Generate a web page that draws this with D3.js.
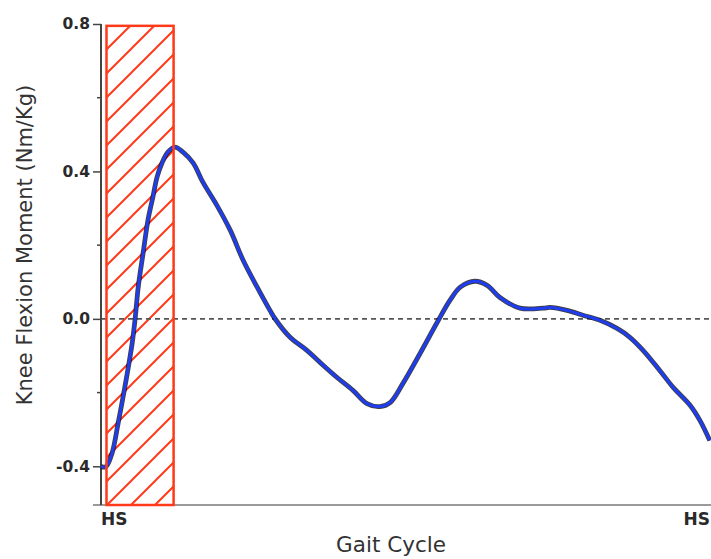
<!DOCTYPE html>
<html>
<head>
<meta charset="utf-8">
<script src="https://cdn.jsdelivr.net/npm/d3@7"></script>
<style>
  html, body { margin: 0; padding: 0; background: #fff; }
  svg { display: block; }
</style>
</head>
<body>
<svg id="chart" width="711" height="559"></svg>
<script>
// ---- data ----
const gaitPct = [0, 0.8, 1.8, 2.8, 3.9, 5.1, 5.6, 6.1, 6.9, 7.7, 8.5, 9.2, 10.0, 11.0, 12.1,
  13.4, 15.1, 16.7, 19.0, 21.2, 23.3, 25.6, 27.7, 28.5, 31.0, 33.8, 35.9, 38.7, 41.3, 43.6,
  45.7, 47.4, 49.5, 52.3, 55.1, 57.2, 58.9, 61.3, 63.3, 65.4, 68.7, 72.5, 73.6, 76.4, 79.0,
  81.8, 84.6, 86.7, 88.9, 91.6, 93.8, 96.6, 98.2, 99.8];
const kneeMoment = [-0.401, -0.401, -0.365, -0.284, -0.186, -0.067, 0.001, 0.086, 0.178, 0.268, 0.330, 0.385, 0.423, 0.453, 0.466,
  0.453, 0.423, 0.371, 0.308, 0.240, 0.159, 0.086, 0.023, 0.001, -0.050, -0.086, -0.118, -0.159, -0.194, -0.230,
  -0.238, -0.227, -0.175, -0.094, -0.010, 0.050, 0.086, 0.102, 0.091, 0.058, 0.029, 0.029, 0.031, 0.023, 0.010,
  -0.004, -0.026, -0.050, -0.086, -0.140, -0.186, -0.235, -0.276, -0.330];
const shadedRange = [0.9, 11.9];
const shadedTop = 0.795;
const yMajorTicks = [0.8, 0.4, 0.0, -0.4];
const yMinorTicks = [0.6, 0.2, -0.2];
const xTickLabels = ["HS", "HS"];
const xLabel = "Gait Cycle";
const yLabel = "Knee Flexion Moment (Nm/Kg)";

// ---- layout ----
const svg = d3.select("#chart");
const x = d3.scaleLinear().domain([0, 100]).range([101, 711]);
const y = d3.scaleLinear().domain([-0.505, 0.8]).range([505, 24]);

const defs = svg.append("defs");
const pat = defs.append("pattern")
  .attr("id", "hatch").attr("patternUnits", "userSpaceOnUse")
  .attr("width", 24).attr("height", 24).attr("x", 12).attr("y", 0);
pat.append("path")
  .attr("d", "M0,24 L24,0 M-6,6 L6,-6 M18,30 L30,18")
  .attr("stroke", "#ff3a1a").attr("stroke-width", 2);

// x axis line (light gray)
svg.append("line")
  .attr("x1", 93).attr("x2", 711).attr("y1", y(-0.505)).attr("y2", y(-0.505))
  .attr("stroke", "#9a9a9a").attr("stroke-width", 2);

// hatched region fill
const rx0 = x(shadedRange[0]), rx1 = x(shadedRange[1]);
svg.append("rect")
  .attr("x", rx0).attr("y", y(shadedTop))
  .attr("width", rx1 - rx0).attr("height", y(-0.505) - y(shadedTop))
  .attr("fill", "url(#hatch)");

// zero dashed line
svg.append("line")
  .attr("x1", x(0)).attr("x2", 711).attr("y1", y(0)).attr("y2", y(0))
  .attr("stroke", "#555").attr("stroke-width", 1.6).attr("stroke-dasharray", "5,4");

// y axis
const yAxis = d3.axisLeft(y).tickValues(yMajorTicks)
  .tickFormat(d => d.toFixed(1)).tickSize(8).tickPadding(3);
const gy = svg.append("g").attr("transform", "translate(101,0)").call(yAxis);
gy.select(".domain").remove();
gy.selectAll(".tick line").attr("stroke", "#444").attr("stroke-width", 1.5);
gy.selectAll(".tick text")
  .attr("font-family", "DejaVu Sans").attr("font-weight", "bold")
  .attr("font-size", 15.5).attr("fill", "#2a2a2a");
svg.append("line")
  .attr("x1", 101).attr("x2", 101).attr("y1", y(0.8)).attr("y2", y(-0.505))
  .attr("stroke", "#444").attr("stroke-width", 2);
svg.selectAll(".minor").data(yMinorTicks).join("line")
  .attr("class", "minor")
  .attr("x1", 97).attr("x2", 101).attr("y1", d => y(d)).attr("y2", d => y(d))
  .attr("stroke", "#444").attr("stroke-width", 1.5);

// curve
const line = d3.line().x((d, i) => x(gaitPct[i])).y(d => y(d)).curve(d3.curveCatmullRom.alpha(0.5));
svg.append("path").datum(kneeMoment).attr("d", line)
  .attr("fill", "none").attr("stroke", "#000").attr("stroke-opacity", 0.75)
  .attr("stroke-width", 4.8).attr("stroke-linejoin", "round");
svg.append("path").datum(kneeMoment).attr("d", line)
  .attr("fill", "none").attr("stroke", "#1f3df0")
  .attr("stroke-width", 3).attr("stroke-linejoin", "round");

// hatched region border
svg.append("rect")
  .attr("x", rx0).attr("y", y(shadedTop))
  .attr("width", rx1 - rx0).attr("height", y(-0.505) - y(shadedTop))
  .attr("fill", "none").attr("stroke", "#ff3a1a").attr("stroke-width", 2.5);

// x tick labels
svg.append("text").attr("x", x(0)).attr("y", 525)
  .attr("font-family", "DejaVu Sans").attr("font-weight", "bold").attr("font-size", 17)
  .attr("fill", "#2a2a2a").text(xTickLabels[0]);
svg.append("text").attr("x", 710).attr("y", 525).attr("text-anchor", "end")
  .attr("font-family", "DejaVu Sans").attr("font-weight", "bold").attr("font-size", 17)
  .attr("fill", "#2a2a2a").text(xTickLabels[1]);

// axis titles
svg.append("text").attr("x", 391).attr("y", 552).attr("text-anchor", "middle")
  .attr("font-family", "DejaVu Sans").attr("font-size", 21.5).attr("fill", "#333")
  .text(xLabel);
svg.append("text").attr("transform", "translate(32,245) rotate(-90)")
  .attr("text-anchor", "middle")
  .attr("font-family", "DejaVu Sans").attr("font-size", 21).attr("fill", "#333")
  .text(yLabel);
</script>
</body>
</html>
